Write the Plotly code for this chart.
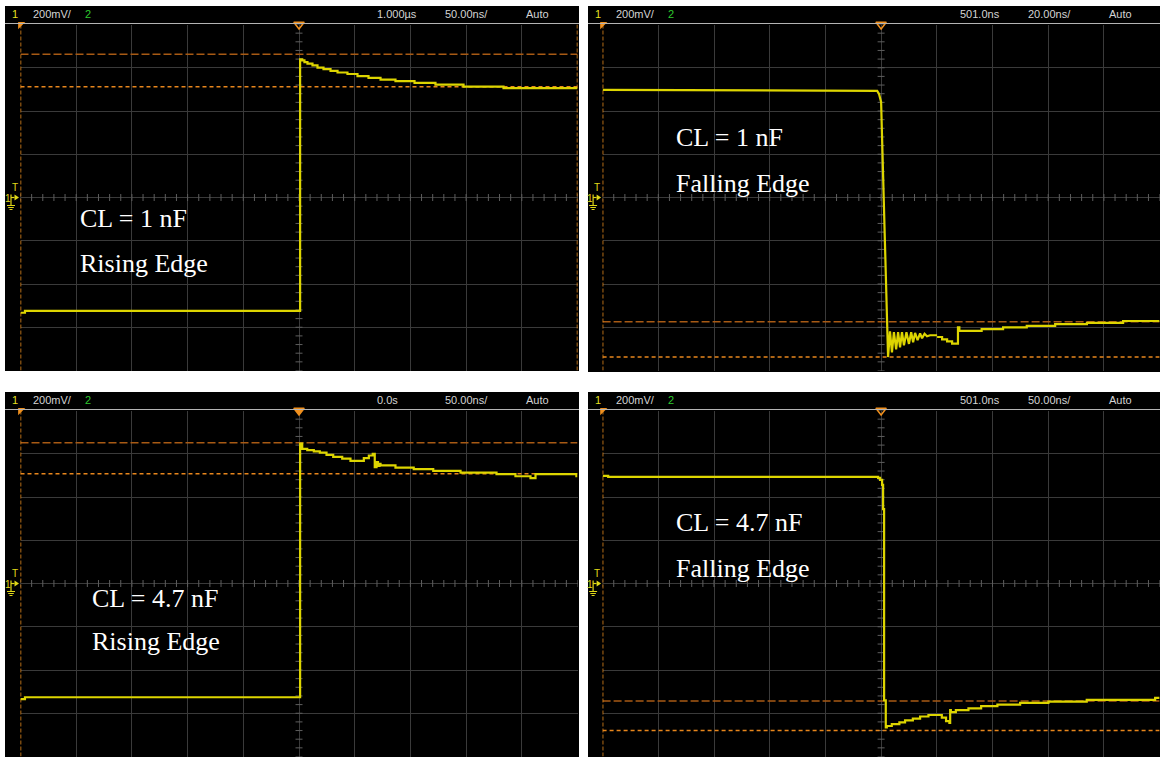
import plotly.graph_objects as go

W, H = 1160, 757

# ---------------- captured waveforms ----------------
# time in ns, channel-1 voltage in mV (200 mV/div)

# CL = 1 nF, rising edge, 50 ns/div
rise_1nF_t = [-250, -246, 1.0, 2.9, 4.9, 7.6, 12.1, 16.6, 22.0, 28.3, 34.6,
              43.5, 52.5, 62.4, 73.2, 86.6, 103.7, 122.5, 147.7, 183.6, 250]
rise_1nF_v = [-533, -524, 639, 634, 626, 619, 611, 601, 594, 586, 578,
              571, 561, 553, 545, 538, 530, 522, 513, 506, 506]

# CL = 1 nF, falling edge, 20 ns/div: edge with ringing ...
fall_1nF_ring_t = [-100, -1.4, -0.75, 0.0, 2.5, 3.2, 3.9, 4.6, 5.4, 6.1, 6.8,
                   7.5, 8.2, 9.1, 10.0, 10.8, 11.5, 12.2, 13.1, 14.0, 14.7,
                   15.6, 16.5, 17.6, 20.1]
fall_1nF_ring_v = [498, 493, 479, 442, -738, -619, -716, -623, -702, -623, -693,
                   -623, -684, -623, -677, -623, -670, -626, -660, -628, -651,
                   -630, -642, -637, -637]
# ... then the settling staircase
fall_1nF_settle_t = [20.1, 21.9, 23.7, 25.5, 27.6, 28.1, 36.1, 43.8, 52.3,
                     62.5, 73.9, 86.9, 100]
fall_1nF_settle_v = [-645, -656, -665, -676, -600, -617, -609, -601, -594,
                     -586, -580, -571, -571]

# CL = 4.7 nF, rising edge, 50 ns/div
rise_4n7F_t = [-250, -246, 1.0, 2.9, 7.4, 13.3, 18.7, 24.7, 30.7, 38.8, 46.2,
               58.2, 62.7, 66.2, 68.0, 69.6, 70.9, 72.3, 73.2, 86.6, 103.0,
               120.5, 145.0, 177.3, 194.3, 207.8, 212.3, 249.0, 250]
rise_4n7F_v = [-535, -526, 647, 623, 617, 611, 605, 595, 586, 577, 567,
               580, 592, 599, 538, 561, 544, 553, 546, 536, 529,
               521, 513, 506, 496, 487, 506, 496, 496]

# CL = 4.7 nF, falling edge, 50 ns/div
fall_4n7F_t = [-250, -245, -2.7, -0.9, 0.9, 1.8, 2.7, 4.2, 5.1, 9.6, 16.4,
               21.5, 28.5, 35.0, 42.5, 54.5, 58.3, 61.3, 62.0, 62.6, 67.1,
               78.4, 89.8, 104.4, 124.8, 150.2, 184.6, 246.0, 250]
fall_4n7F_v = [498, 493, 488, 479, 456, 344, -540, -665, -659, -650, -642,
               -633, -625, -615, -608, -620, -636, -645, -586, -595, -586,
               -577, -567, -560, -552, -546, -538, -529, -529]

# horizontal cursor levels (mV): upper/lower
cursor_1nF_rise = [662, 512]
cursor_1nF_fall = [-575, -738]
cursor_4n7F_rise = [651, 507]
cursor_4n7F_fall = [-543, -680]

V_DIV = 200  # mV/div, 8 divisions

panels = [
    dict(box=(5, 6, 579, 371), grid=(20.5, 24.5, 577.5, 370.5), tdiv=50,
         delay="1.000µs", tb="50.00ns/", labels=("CL = 1 nF", "Rising Edge"),
         lab_x=80, lab_y=(218, 263),
         segs=[(rise_1nF_t, rise_1nF_v, "hv")],
         cursors=cursor_1nF_rise, vcur=("left", "right"), trig_open=True),
    dict(box=(588, 6, 1160, 372), grid=(602.6, 24.5, 1159.6, 370.5), tdiv=20,
         delay="501.0ns", tb="20.00ns/", labels=("CL = 1 nF", "Falling Edge"),
         lab_x=676, lab_y=(138, 183),
         segs=[(fall_1nF_ring_t, fall_1nF_ring_v, "linear"),
               (fall_1nF_settle_t, fall_1nF_settle_v, "hv")],
         cursors=cursor_1nF_fall, vcur=("left",), trig_open=True),
    dict(box=(5, 392, 579, 757), grid=(20.5, 410.5, 577.5, 756.5), tdiv=50,
         delay="0.0s", tb="50.00ns/", labels=("CL = 4.7 nF", "Rising Edge"),
         lab_x=92, lab_y=(598, 641),
         segs=[(rise_4n7F_t, rise_4n7F_v, "hv")],
         cursors=cursor_4n7F_rise, vcur=("left",), trig_open=False),
    dict(box=(588, 392, 1160, 757), grid=(602.6, 410.5, 1159.6, 756.5), tdiv=50,
         delay="501.0ns", tb="50.00ns/", labels=("CL = 4.7 nF", "Falling Edge"),
         lab_x=676, lab_y=(522, 568),
         segs=[(fall_4n7F_t, fall_4n7F_v, "hv")],
         cursors=cursor_4n7F_fall, vcur=("left",), trig_open=True),
]

TRACE = "#ddd500"
BROWN = "#a85a14"
ORANGE = "#e8861c"
GRID = "#3a3a3a"
TICK = "#5e5e5e"
HDR_FONT = "Liberation Sans Narrow, Arial Narrow, Liberation Sans, sans-serif"


def fx(px):
    return px / W


def fy(py):
    return 1 - py / H


def path(points, close=False):
    s = "M " + " L ".join(f"{fx(x):.5f},{fy(y):.5f}" for x, y in points)
    return s + (" Z" if close else "")


fig = go.Figure()
shapes, annotations, axes = [], [], {}

for i, p in enumerate(panels, start=1):
    sfx = "" if i == 1 else str(i)
    xa, ya = "x" + sfx, "y" + sfx
    bx0, by0, bx1, by1 = p["box"]
    gx0, gy0, gx1, gy1 = p["grid"]
    tmax = 5 * p["tdiv"]
    vmax = 4 * V_DIV
    cy = (gy0 + gy1) / 2

    axes["xaxis" + sfx] = dict(
        domain=[fx(gx0), fx(gx1)], range=[-tmax, tmax], anchor=ya,
        tickmode="linear", tick0=-tmax, dtick=p["tdiv"], showticklabels=False,
        ticks="", showgrid=True, gridcolor=GRID, gridwidth=1, zeroline=False,
        showline=False, fixedrange=True)
    axes["yaxis" + sfx] = dict(
        domain=[fy(gy1), fy(gy0)], range=[-vmax, vmax], anchor=xa,
        tickmode="linear", tick0=-vmax, dtick=V_DIV, showticklabels=False,
        ticks="", showgrid=True, gridcolor=GRID, gridwidth=1, zeroline=False,
        showline=False, fixedrange=True)

    # panel background and header separator
    shapes.append(dict(type="rect", xref="paper", yref="paper", layer="below",
                       x0=fx(bx0), x1=fx(bx1), y0=fy(by1), y1=fy(by0),
                       fillcolor="black", line=dict(width=0)))
    shapes.append(dict(type="line", xref="paper", yref="paper",
                       x0=fx(bx0), x1=fx(bx1), y0=fy(gy0 - 1), y1=fy(gy0 - 1),
                       line=dict(color="#b4b4b4", width=1)))

    # graticule minor ticks on the centre cross
    step_t = p["tdiv"] / 5
    n_t = int(round(2 * tmax / step_t))
    fig.add_trace(go.Scatter(
        x=[-tmax + k * step_t for k in range(n_t + 1)], y=[0] * (n_t + 1),
        xaxis=xa, yaxis=ya, mode="markers", hoverinfo="skip",
        marker=dict(symbol="line-ns", size=5, line=dict(color=TICK, width=1))))
    step_v = V_DIV / 5
    n_v = int(round(2 * vmax / step_v))
    fig.add_trace(go.Scatter(
        x=[0] * (n_v + 1), y=[-vmax + k * step_v for k in range(n_v + 1)],
        xaxis=xa, yaxis=ya, mode="markers", hoverinfo="skip",
        marker=dict(symbol="line-ew", size=5, line=dict(color=TICK, width=1))))

    # horizontal cursors
    up, lo = p["cursors"]
    fig.add_trace(go.Scatter(x=[-tmax, tmax], y=[up, up], xaxis=xa, yaxis=ya,
                             mode="lines", hoverinfo="skip", cliponaxis=False,
                             line=dict(color=BROWN, width=1.5, dash="8px,3px")))
    fig.add_trace(go.Scatter(x=[-tmax, tmax], y=[lo, lo], xaxis=xa, yaxis=ya,
                             mode="lines", hoverinfo="skip", cliponaxis=False,
                             line=dict(color=ORANGE, width=1.5, dash="4px,3px")))
    # vertical cursors
    for side in p["vcur"]:
        xc = -tmax if side == "left" else tmax
        fig.add_trace(go.Scatter(x=[xc, xc], y=[-vmax, vmax], xaxis=xa, yaxis=ya,
                                 mode="lines", hoverinfo="skip", cliponaxis=False,
                                 line=dict(color="#f0901e", width=1.5,
                                           dash="4px,2px")))

    # waveform
    for t, v, shape in p["segs"]:
        fig.add_trace(go.Scatter(x=t, y=v, xaxis=xa, yaxis=ya, mode="lines",
                                 hoverinfo="skip",
                                 line=dict(color=TRACE, width=2.2, shape=shape,
                                           simplify=False)))

    # trigger position marker and left corner marker
    fig.add_trace(go.Scatter(
        x=[0], y=[vmax], xaxis=xa, yaxis=ya, mode="markers", cliponaxis=False,
        hoverinfo="skip",
        marker=dict(symbol="triangle-down-open" if p["trig_open"] else "triangle-down",
                    size=9, color="#f0901e", line=dict(color="#f0901e", width=1.5))))
    fig.add_trace(go.Scatter(
        x=[-tmax], y=[vmax], xaxis=xa, yaxis=ya, mode="markers", cliponaxis=False,
        hoverinfo="skip",
        marker=dict(symbol="triangle-nw", size=8, color="#f0901e",
                    line=dict(width=0))))

    # channel-1 ground / trigger-level marker at the left edge
    shapes.append(dict(type="path", xref="paper", yref="paper",
                       path=path([(gx0 - 6, cy - 3), (gx0 - 1.5, cy), (gx0 - 6, cy + 3)], True),
                       fillcolor="#e0d818", line=dict(width=0)))
    shapes.append(dict(type="path", xref="paper", yref="paper",
                       path=path([(gx0 - 9.5, cy - 3), (gx0 - 9.5, cy + 8)]),
                       line=dict(color="#e0d818", width=1.2)))
    shapes.append(dict(type="path", xref="paper", yref="paper",
                       path=path([(gx0 - 9.5, cy), (gx0 - 6, cy)]),
                       line=dict(color="#e0d818", width=1.2)))
    for k, half in enumerate((4, 2.8, 1.5)):
        yy = cy + 8 + 2 * k
        shapes.append(dict(type="line", xref="paper", yref="paper",
                           x0=fx(gx0 - 9.5 - half), x1=fx(gx0 - 9.5 + half),
                           y0=fy(yy), y1=fy(yy),
                           line=dict(color="#e0d818", width=1)))
    annotations.append(dict(xref="paper", yref="paper", x=fx(gx0 - 6), y=fy(cy - 10),
                            text="T", showarrow=False, xanchor="center", yanchor="middle",
                            font=dict(family="Liberation Sans", size=10, color="#e0d818")))
    annotations.append(dict(xref="paper", yref="paper", x=fx(gx0 - 12.5), y=fy(cy + 1),
                            text="1", showarrow=False, xanchor="center", yanchor="middle",
                            font=dict(family="Liberation Sans", size=10, color="#e0d818")))

    # header status line
    hy = fy(by0 + 8)
    head = [(5, "1", "#e6e020"), (26, "200mV/", "#d4d4d4"), (78, "2", "#2ec82e"),
            (370, p["delay"], "#d4d4d4"), (438, p["tb"], "#d4d4d4"),
            (519, "Auto", "#d4d4d4")]
    for dx, txt, col in head:
        annotations.append(dict(xref="paper", yref="paper", x=fx(bx0 + dx), y=hy,
                                text=txt, showarrow=False, xanchor="left",
                                yanchor="middle",
                                font=dict(family=HDR_FONT, size=11, color=col)))

    # load / edge labels
    for txt, ly in zip(p["labels"], p["lab_y"]):
        annotations.append(dict(xref="paper", yref="paper", x=fx(p["lab_x"] - 2),
                                y=fy(ly), text=txt, showarrow=False,
                                xanchor="left", yanchor="middle",
                                font=dict(family="Liberation Serif, Times New Roman, serif",
                                          size=26, color="white")))

fig.update_layout(
    width=W, height=H, margin=dict(l=0, r=0, t=0, b=0),
    paper_bgcolor="white", plot_bgcolor="black", showlegend=False,
    shapes=shapes, annotations=annotations, **axes)

fig.write_html("out.html")
